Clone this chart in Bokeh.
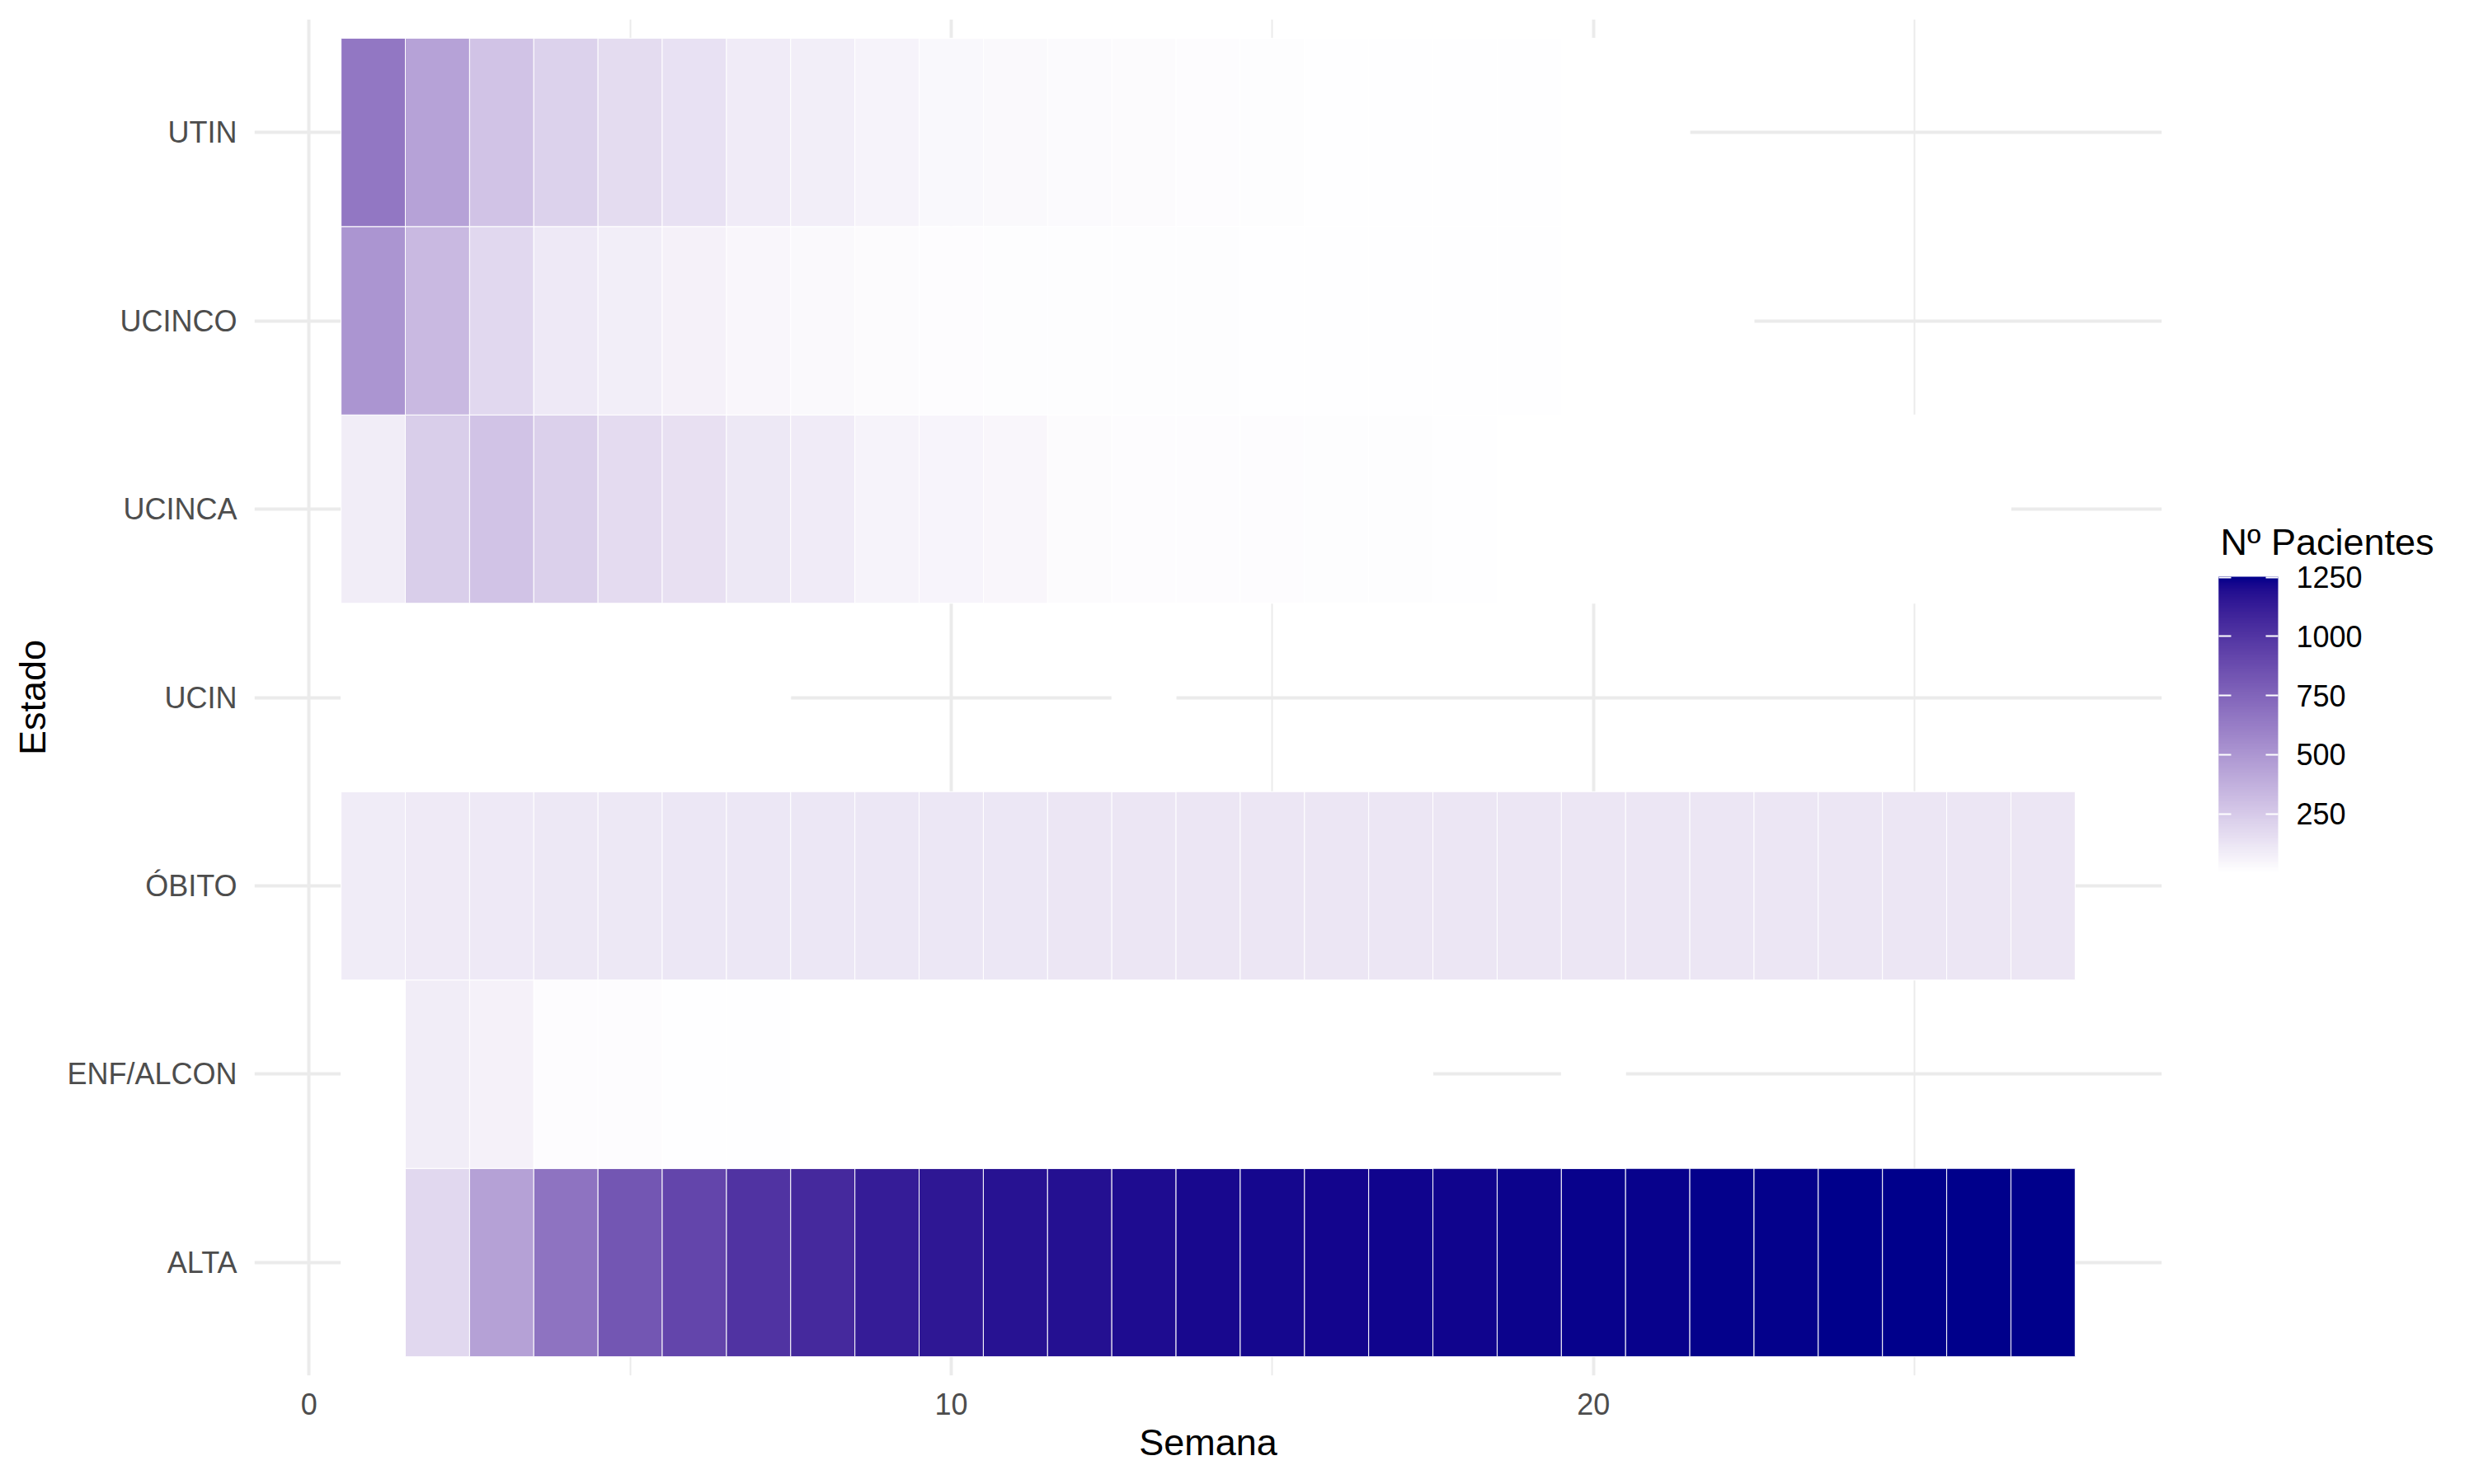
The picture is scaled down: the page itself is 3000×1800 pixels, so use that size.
import numpy as np
from bokeh.plotting import figure
from bokeh.models import (ColumnDataSource, LinearColorMapper, ColorBar, FixedTicker,
                          Range1d)
from bokeh.transform import transform
from bokeh.embed import file_html
from bokeh.resources import INLINE

# ---------------- data ----------------
states = ["ALTA", "ENF/ALCON", "ÓBITO", "UCIN", "UCINCA", "UCINCO", "UTIN"]  # bottom -> top

alta_weeks = list(range(1, 28))
alta_vals = [1, 185, 450, 679, 828, 917, 1010, 1066, 1126, 1154, 1177, 1188, 1203, 1215,
             1220, 1224, 1228, 1232, 1236, 1239, 1242, 1244, 1246, 1248, 1250, 1251, 1252]

enf_weeks = list(range(1, 18)) + [20]
enf_vals = [2, 87, 66, 20, 20, 10, 10, 5, 4, 4, 3, 3, 2, 2, 2, 2, 2, 1]

obito_weeks = list(range(1, 28))
obito_vals = [90, 102, 108, 111, 113, 114, 115, 116, 117, 118, 118, 119, 119, 120,
              120, 120, 121, 121, 121, 122, 122, 122, 122, 123, 123, 123, 123]

ucin_weeks = list(range(1, 8)) + [13]
ucin_vals = [4, 3, 3, 2, 2, 2, 1, 1]

ucinca_weeks = list(range(1, 27))
ucinca_vals = [87, 235, 280, 222, 170, 145, 110, 95, 57, 52, 44, 24, 20, 18, 16, 14, 12,
               6, 2, 2, 2, 2, 1, 1, 1, 1]

ucinco_weeks = list(range(1, 23))
ucinco_vals = [509, 333, 186, 104, 80, 66, 44, 35, 23, 18, 15, 13, 12, 11, 10, 7, 7, 6, 6,
               1, 1, 1]

utin_weeks = list(range(1, 22))
utin_vals = [660, 445, 280, 216, 164, 140, 98, 82, 57, 37, 32, 26, 22, 18, 15, 8, 7, 6, 6,
             1, 1]

x_ticks = [0, 10, 20]
x_minor = [5, 15, 25]
legend_ticks = [250, 500, 750, 1000, 1250]
legend_title = "Nº Pacientes"
val_low, val_high = 1, 1252

series = {
    "ALTA": (alta_weeks, alta_vals),
    "ENF/ALCON": (enf_weeks, enf_vals),
    "ÓBITO": (obito_weeks, obito_vals),
    "UCIN": (ucin_weeks, ucin_vals),
    "UCINCA": (ucinca_weeks, ucinca_vals),
    "UCINCO": (ucinco_weeks, ucinco_vals),
    "UTIN": (utin_weeks, utin_vals),
}

xs, ys, vs = [], [], []
for i, s in enumerate(states):
    w, v = series[s]
    xs += w
    ys += [i + 1] * len(w)
    vs += v
src = ColumnDataSource(dict(x=xs, y=ys, v=vs))

# ---------------- Lab gradient white -> darkblue ----------------
M = np.array([[0.4124564, 0.3575761, 0.1804375],
              [0.2126729, 0.7151522, 0.0721750],
              [0.0193339, 0.1191920, 0.9503041]])
Minv = np.linalg.inv(M)
WN = M @ np.ones(3)
d = 6 / 29


def to_lab(h):
    c = np.array([int(h[i:i + 2], 16) for i in (1, 3, 5)]) / 255
    lin = np.where(c <= 0.04045, c / 12.92, ((c + 0.055) / 1.055) ** 2.4)
    xyz = M @ lin / WN
    f = np.where(xyz > d ** 3, np.cbrt(xyz), xyz / (3 * d * d) + 4 / 29)
    return np.array([116 * f[1] - 16, 500 * (f[0] - f[1]), 200 * (f[1] - f[2])])


def to_hex(lab):
    L, a, b = lab
    fy = (L + 16) / 116
    f = np.array([fy + a / 500, fy, fy - b / 200])
    xyz = np.where(f > d, f ** 3, 3 * d * d * (f - 4 / 29)) * WN
    lin = np.clip(Minv @ xyz, 0, 1)
    c = np.where(lin <= 0.0031308, 12.92 * lin, 1.055 * lin ** (1 / 2.4) - 0.055)
    c = np.clip(np.round(c * 255), 0, 255).astype(int)
    return "#%02x%02x%02x" % tuple(c)


lab_lo, lab_hi = to_lab("#ffffff"), to_lab("#00008b")
palette = [to_hex(lab_lo + t * (lab_hi - lab_lo)) for t in np.linspace(0, 1, 256)]
mapper = LinearColorMapper(palette=palette, low=val_low, high=val_high)

# ---------------- figure ----------------
FONT = "Liberation Sans"
p = figure(width=2992, height=1792, output_backend="svg", toolbar_location=None,
           x_range=Range1d(-0.85, 28.85), y_range=Range1d(0.4, 7.6),
           min_border_left=308, min_border_right=371, min_border_top=23,
           min_border_bottom=124)
p.outline_line_color = None
p.background_fill_color = "white"
p.border_fill_color = "white"

p.rect(x="x", y="y", width=1, height=1, source=src,
       fill_color=transform("v", mapper), line_color="white", line_width=1)

# grid
p.xgrid.ticker = FixedTicker(ticks=x_ticks, minor_ticks=x_minor)
p.xgrid.grid_line_color = "#EBEBEB"
p.xgrid.grid_line_width = 4
p.xgrid.minor_grid_line_color = "#EBEBEB"
p.xgrid.minor_grid_line_width = 2
p.ygrid.ticker = FixedTicker(ticks=list(range(1, 8)))
p.ygrid.grid_line_color = "#EBEBEB"
p.ygrid.grid_line_width = 4

# axes
p.xaxis.ticker = FixedTicker(ticks=x_ticks)
p.yaxis.ticker = FixedTicker(ticks=list(range(1, 8)))
p.yaxis.major_label_overrides = {i + 1: s for i, s in enumerate(states)}
for ax in (p.xaxis[0], p.yaxis[0]):
    ax.axis_line_color = None
    ax.major_tick_line_color = None
    ax.minor_tick_line_color = None
    ax.major_tick_out = 0
    ax.major_tick_in = 0
    ax.major_label_text_font = FONT
    ax.major_label_text_font_size = "36px"
    ax.major_label_text_color = "#4D4D4D"
    ax.axis_label_text_font = FONT
    ax.axis_label_text_font_size = "45px"
    ax.axis_label_text_font_style = "normal"
    ax.axis_label_text_color = "black"
p.xaxis.axis_label = "Semana"
p.yaxis.axis_label = "Estado"
p.xaxis.major_label_standoff = 21
p.xaxis.axis_label_standoff = 5
p.yaxis.major_label_standoff = 21
p.yaxis.axis_label_standoff = 13

common = dict(color_mapper=mapper, ticker=FixedTicker(ticks=legend_ticks), height=359,
              major_tick_line_color="white", major_tick_line_width=2,
              major_tick_in=15, major_tick_out=0, minor_tick_line_color=None,
              bar_line_color=None, border_line_color=None,
              background_fill_color=None, padding=0, margin=0)
cb = ColorBar(width=72,
              major_label_text_font=FONT, major_label_text_font_size="36px",
              major_label_text_color="black", label_standoff=22,
              location=(2382, 610), **common)
p.add_layout(cb, "center")
# second thin bar: gives the white ticks on the left edge, as in the reference
cb2 = ColorBar(width=15, major_label_text_alpha=0, major_label_text_font_size="1px",
               location=(2382, 610), **common)
p.add_layout(cb2, "center")

# legend title: carried by an invisible horizontal colour bar (keeps the title horizontal)
cb_title = ColorBar(color_mapper=mapper, orientation="horizontal", width=260, height=1,
                    ticker=FixedTicker(ticks=[]), scale_alpha=0,
                    major_label_text_alpha=0, major_label_text_font_size="1px",
                    major_tick_line_color=None, minor_tick_line_color=None,
                    bar_line_color=None, border_line_color=None,
                    background_fill_color=None, padding=0, margin=0,
                    title=legend_title, title_text_font=FONT,
                    title_text_font_size="45px", title_text_font_style="normal",
                    title_text_color="black", title_standoff=0,
                    location=(2384, 985))
p.add_layout(cb_title, "center")

open("out.html", "w").write(file_html(p, INLINE))
